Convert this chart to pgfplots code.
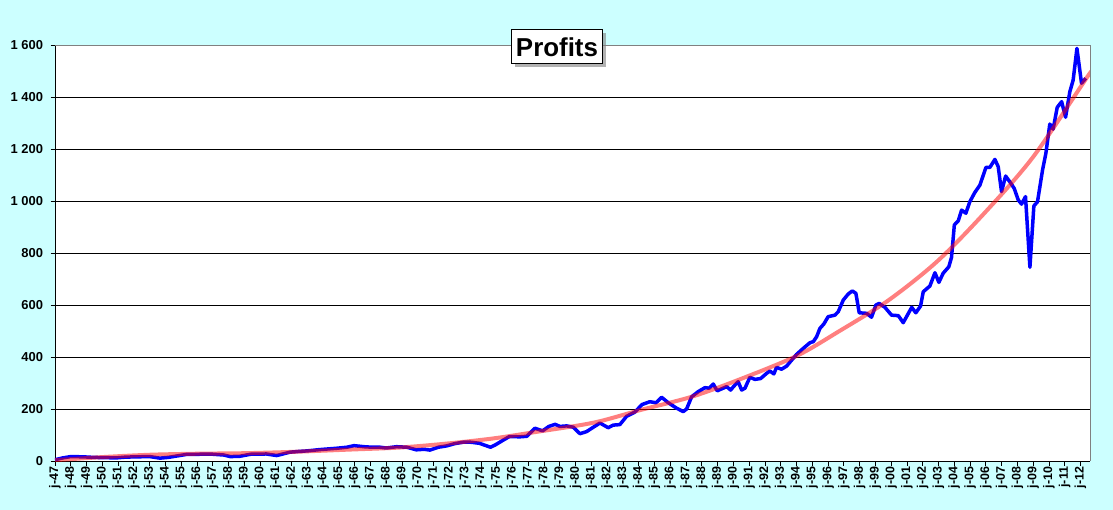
\documentclass[border=0pt]{standalone}
\usepackage{fontspec}
\setmainfont{Liberation Sans}
\usepackage{pgfplots}
\pgfplotsset{compat=1.18}
\usetikzlibrary{shadows}
\definecolor{bgc}{RGB}{204,255,255}
\definecolor{framec}{RGB}{128,128,128}
\begin{document}
\begin{tikzpicture}
\fill[bgc] (-55bp,-49bp) rectangle (1058bp,461bp);
\begin{axis}[
 at={(0,0)}, anchor=south west,
 scale only axis, width=1035bp, height=416bp,
 xmin=1947, xmax=2012.6, ymin=0, ymax=1600,
 axis background/.style={fill=white},
 axis x line*=bottom, axis y line*=left,
 axis line style={black, line width=0.8bp, -},
 ytick={0,200,...,1600},
 yticklabels={0,200,400,600,800,1 000,1 200,1 400,1 600},
 ymajorgrids, grid style={black, line width=0.8bp},
 xtick={1947,...,2012},
 xticklabels={j-47,j-48,j-49,j-50,j-51,j-52,j-53,j-54,j-55,j-56,j-57,j-58,j-59,j-60,j-61,j-62,j-63,j-64,j-65,j-66,j-67,j-68,j-69,j-70,j-71,j-72,j-73,j-74,j-75,j-76,j-77,j-78,j-79,j-80,j-81,j-82,j-83,j-84,j-85,j-86,j-87,j-88,j-89,j-90,j-91,j-92,j-93,j-94,j-95,j-96,j-97,j-98,j-99,j-00,j-01,j-02,j-03,j-04,j-05,j-06,j-07,j-08,j-09,j-10,j-11,j-12},
 tick align=outside, major tick length=4.5bp,
 tick style={black, line width=0.8bp},
 xticklabel style={rotate=90, anchor=east, font=\bfseries\fontsize{12.5}{12.5}\selectfont, inner sep=1bp},
 yticklabel style={font=\bfseries\fontsize{13}{13}\selectfont, xshift=-4bp},
 /pgf/number format/assume math mode=true,
]
\addplot[blue, line width=3.5bp, line join=round, mark=none] coordinates {
(1947.0,5) (1947.5,12) (1948.0,17) (1948.8,16) (1949.4,14) (1950.0,13) (1950.9,12) (1951.5,15) (1952.2,16) (1953.0,17) (1953.65,11) (1954.2,14) (1954.7,19) (1955.3,25) (1956.2,26) (1957.0,26) (1957.7,23) (1958.1,17) (1958.7,18) (1959.4,26) (1960.4,27) (1961.05,21) (1961.9,34) (1962.5,37) (1963.0,39) (1963.8,44) (1964.85,49) (1965.5,53) (1965.95,59) (1966.75,54) (1967.6,53) (1968.0,50) (1968.65,55) (1969.3,53) (1969.9,43) (1970.4,45) (1970.76,42) (1971.3,53) (1971.82,58) (1972.35,67) (1972.95,73) (1973.4,72) (1973.9,68) (1974.6,53) (1974.88,61) (1975.4,80) (1975.8,94) (1976.47,93) (1976.9,95) (1977.42,126) (1977.9,116) (1978.3,133) (1978.7,141) (1979.0,133) (1979.43,135) (1979.85,130) (1980.27,105) (1980.69,113) (1981.12,130) (1981.54,146) (1982.06,128) (1982.38,138) (1982.8,140) (1983.23,172) (1983.75,188) (1984.2,217) (1984.7,228) (1985.09,224) (1985.45,245) (1985.87,224) (1986.4,203) (1986.82,190) (1987.03,200) (1987.35,247) (1987.77,267) (1988.19,282) (1988.46,280) (1988.72,296) (1988.97,270) (1989.35,280) (1989.57,286) (1989.82,273) (1990.03,288) (1990.3,305) (1990.52,273) (1990.73,280) (1991.04,322) (1991.36,314) (1991.72,317) (1992.1,337) (1992.31,346) (1992.56,335) (1992.73,360) (1993.05,353) (1993.37,365) (1993.69,388) (1994.0,410) (1994.42,433) (1994.85,455) (1995.06,459) (1995.27,478) (1995.48,510) (1995.73,527) (1996.0,555) (1996.43,561) (1996.64,574) (1996.96,619) (1997.27,642) (1997.53,654) (1997.76,645) (1997.97,570) (1998.44,568) (1998.75,553) (1999.03,600) (1999.24,606) (1999.6,591) (2000.02,561) (2000.45,559) (2000.76,532) (2001.3,591) (2001.56,570) (2001.86,596) (2002.03,651) (2002.45,673) (2002.77,724) (2003.02,687) (2003.29,722) (2003.65,747) (2003.82,783) (2004.0,908) (2004.25,924) (2004.46,965) (2004.73,953) (2004.98,997) (2005.3,1033) (2005.62,1061) (2006.0,1129) (2006.25,1129) (2006.57,1160) (2006.78,1132) (2006.99,1036) (2007.25,1096) (2007.56,1070) (2007.79,1049) (2008.05,1004) (2008.26,988) (2008.51,1017) (2008.79,745) (2009.04,981) (2009.27,997) (2009.59,1119) (2009.8,1183) (2010.05,1296) (2010.26,1276) (2010.52,1360) (2010.8,1382) (2011.05,1322) (2011.32,1420) (2011.53,1465) (2011.77,1587) (2012.06,1453) (2012.33,1472)
};
\addplot[red, opacity=0.5, line width=4bp, smooth, mark=none] coordinates {
(1947.0,3) (1950,15) (1953,24) (1956,28) (1959,30) (1962,35) (1965.7,44) (1968.9,52) (1972,68) (1974.8,87) (1977.3,110) (1981.1,147) (1984.1,196) (1987.35,247) (1990.4,314) (1994.0,404) (1996.64,497) (1999.8,617) (2002.9,767) (2005.9,953) (2009.0,1170) (2012.4,1475) (2012.6,1490)
};
\end{axis}
\draw[framec, line width=0.8bp] (0,416bp) -- (1035bp,416bp) -- (1035bp,0);
\node[draw=black, line width=1bp, fill=white, drop shadow={shadow xshift=3bp, shadow yshift=-3bp, fill=gray, opacity=0.6}, font=\bfseries\fontsize{26}{26}\selectfont, minimum width=91bp, minimum height=34bp, inner sep=0pt] at (502bp,414bp) {Profits};
\end{tikzpicture}
\end{document}
